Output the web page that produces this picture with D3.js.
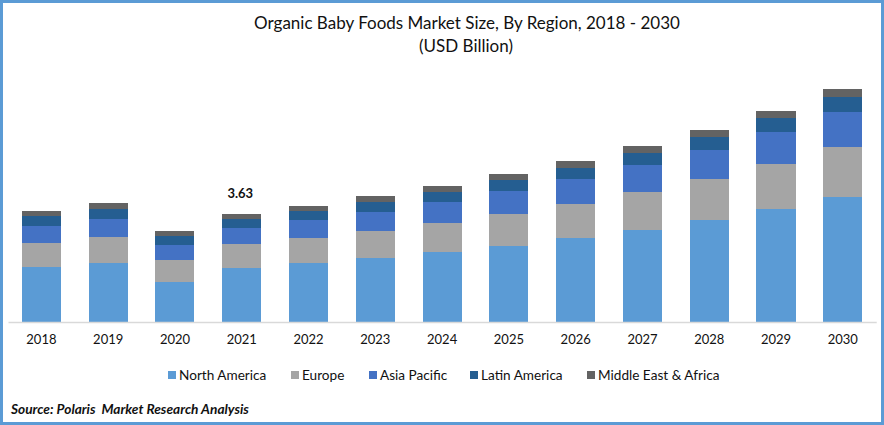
<!DOCTYPE html>
<html><head><meta charset="utf-8">
<script src="https://cdn.jsdelivr.net/npm/d3@7/dist/d3.min.js"></script>
<style>
html,body{margin:0;padding:0;background:#fff;overflow:hidden}
svg{display:block}
text{font-family:Lato,"Open Sans",sans-serif;fill:#111}
</style></head><body>
<svg id="c" width="884" height="425"></svg>
<script>
const years=["2018","2019","2020","2021","2022","2023","2024","2025","2026","2027","2028","2029","2030"];
const regions=["North America","Europe","Asia Pacific","Latin America","Middle East & Africa"];
const colors=["#5b9bd5","#a5a5a5","#4472c4","#255e91","#636363"];
const northAmerica=[1.85,1.98,1.34,1.82,1.98,2.15,2.35,2.55,2.82,3.09,3.43,3.80,4.20];
const europe=[0.81,0.87,0.74,0.81,0.84,0.91,0.97,1.08,1.14,1.28,1.38,1.51,1.68];
const asiaPacific=[0.57,0.61,0.50,0.54,0.61,0.64,0.71,0.77,0.84,0.91,0.97,1.08,1.18];
const latinAmerica=[0.34,0.34,0.30,0.30,0.30,0.34,0.34,0.37,0.37,0.40,0.44,0.47,0.50];
const mea=[0.17,0.20,0.17,0.17,0.17,0.20,0.20,0.20,0.24,0.24,0.24,0.24,0.27];
const annotatedYear="2021", annotatedValue="3.63";
const titleLines=["Organic Baby Foods Market Size, By Region, 2018 - 2030","(USD Billion)"];
const sourceText="Source: Polaris  Market Research Analysis";

const svg=d3.select("#c");
const rows=years.map((y,i)=>({year:y,[regions[0]]:northAmerica[i],[regions[1]]:europe[i],[regions[2]]:asiaPacific[i],[regions[3]]:latinAmerica[i],[regions[4]]:mea[i]}));
const x=d3.scaleBand().domain(years).range([8,876.2]).paddingInner(0.415).paddingOuter(0.2075);
const y=d3.scaleLinear().domain([0,8]).range([322,84]);
const stack=d3.stack().keys(regions)(rows);

svg.append("rect").attr("x",1.5).attr("y",1.5).attr("width",881).attr("height",422)
  .attr("fill","#fff").attr("stroke","#5b9bd5").attr("stroke-width",3);

svg.selectAll("text.title").data(titleLines).join("text").attr("class","title")
  .attr("x",(d,i)=>i?466:467).attr("y",(d,i)=>29+i*22.5).attr("text-anchor","middle")
  .attr("font-size",17).text(d=>d);

svg.append("g").selectAll("g").data(stack).join("g").attr("fill",(d,i)=>colors[i])
  .selectAll("rect").data(d=>d).join("rect")
  .attr("x",d=>x(d.data.year)).attr("width",x.bandwidth())
  .attr("y",d=>y(d[1])).attr("height",d=>y(d[0])-y(d[1]))
  .attr("shape-rendering","crispEdges");

const axis=svg.append("g").attr("transform","translate(0,322)")
  .call(d3.axisBottom(x).tickSize(0).tickPadding(13));
axis.select(".domain").attr("stroke","#d9d9d9").attr("stroke-width",1.5);
axis.selectAll("text").attr("font-size",13).style("font-family","Lato").attr("fill","#111");

const total=regions.reduce((s,r)=>s+rows[years.indexOf(annotatedYear)][r],0);
svg.append("text").attr("x",x(annotatedYear)+x.bandwidth()/2-1.5).attr("y",y(total)-16)
  .attr("text-anchor","middle").attr("font-size",13).attr("font-weight",700).text(annotatedValue);

const legendX=[168,291,369,470,587];
const lg=svg.append("g").selectAll("g").data(regions).join("g")
  .attr("transform",(d,i)=>`translate(${legendX[i]},371)`);
lg.append("rect").attr("width",8).attr("height",8).attr("fill",(d,i)=>colors[i]);
lg.append("text").attr("x",11).attr("y",9).attr("font-size",13.6).text(d=>d);

svg.append("text").attr("x",11).attr("y",414).attr("font-size",13.7).attr("font-weight",700)
  .attr("font-style","italic").style("white-space","pre").text(sourceText);
</script></body></html>
